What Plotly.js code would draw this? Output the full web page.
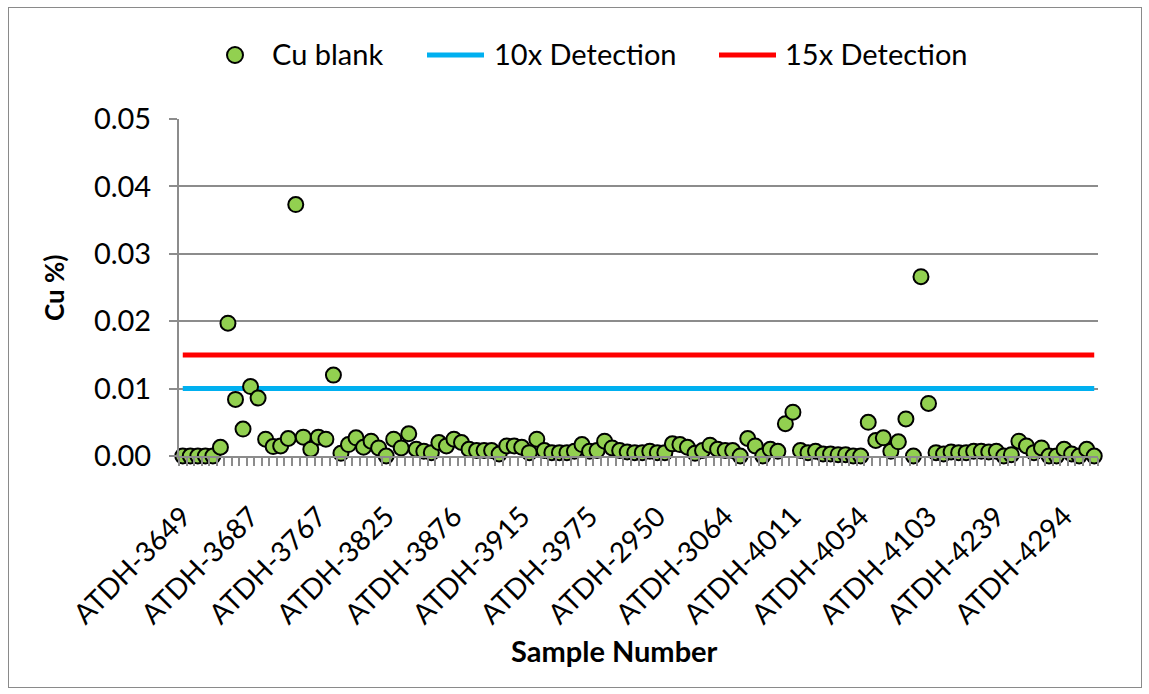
<!DOCTYPE html>
<html>
<head>
<meta charset="utf-8">
<script src="https://cdn.plot.ly/plotly-3.0.1.min.js"></script>
<style>
  html, body { margin: 0; padding: 0; background: #ffffff; }
  #chart { position: absolute; left: 8px; top: 7px; width: 1132px; height: 679px; border: 1px solid #8a8a8a; }
</style>
</head>
<body>
<div id="chart"></div>
<script>
// Sample index (category position) and Cu % values
const cuBlank = [
  0.0000, 0.0000, 0.0000, 0.0000, 0.0000, 0.0013, 0.0197, 0.0084, 0.0040, 0.0103,
  0.0086, 0.0025, 0.0014, 0.0015, 0.0026, 0.0373, 0.0028, 0.0010, 0.0028, 0.0025,
  0.0120, 0.0004, 0.0017, 0.0027, 0.0013, 0.0022, 0.0012, 0.0000, 0.0025, 0.0012,
  0.0033, 0.0010, 0.0007, 0.0005, 0.0020, 0.0015, 0.0025, 0.0020, 0.0010, 0.0008,
  0.0008, 0.0008, 0.0003, 0.0015, 0.0015, 0.0013, 0.0005, 0.0025, 0.0008, 0.0005,
  0.0005, 0.0005, 0.0007, 0.0017, 0.0007, 0.0008, 0.0022, 0.0012, 0.0008, 0.0006,
  0.0005, 0.0005, 0.0007, 0.0005, 0.0005, 0.0018, 0.0017, 0.0013, 0.0004, 0.0008,
  0.0016, 0.0010, 0.0008, 0.0008, 0.0000, 0.0026, 0.0015, 0.0000, 0.0010, 0.0007,
  0.0048, 0.0065, 0.0008, 0.0005, 0.0007, 0.0003, 0.0003, 0.0002, 0.0002, 0.0000,
  0.0000, 0.0050, 0.0023, 0.0027, 0.0007, 0.0021, 0.0055, 0.0000, 0.0266, 0.0078,
  0.0005, 0.0003, 0.0006, 0.0005, 0.0005, 0.0007, 0.0007, 0.0006, 0.0007, 0.0000,
  0.0002, 0.0022, 0.0015, 0.0005, 0.0012, 0.0000, 0.0000, 0.0010, 0.0003, 0.0000,
  0.0010, 0.0000
];
const sampleIndex = cuBlank.map((_, i) => i);

// Labelled categories on the x axis (every 9th sample)
const tickIndex = [0, 9, 18, 27, 36, 45, 54, 63, 72, 81, 90, 99, 108, 117];
const tickLabels = ["ATDH-3649", "ATDH-3687", "ATDH-3767", "ATDH-3825", "ATDH-3876",
  "ATDH-3915", "ATDH-3975", "ATDH-2950", "ATDH-3064", "ATDH-4011", "ATDH-4054",
  "ATDH-4103", "ATDH-4239", "ATDH-4294"];

// Detection limits
const detection10x = 0.01;
const detection15x = 0.015;
const seriesNames = ["Cu blank", "10x Detection", "15x Detection"];
const xTitle = "Sample Number";
const yTitle = "Cu %)";

const FONT = "Lato, 'Open Sans', sans-serif";
const GREEN = "#92D050", BLUE = "#00B0F0", RED = "#FF0000", GRID = "#8c8c8c";

const firstX = sampleIndex[0], lastX = sampleIndex[sampleIndex.length - 1];

const traces = [
  { x: [firstX, lastX], y: [detection10x, detection10x], type: "scatter", mode: "lines",
    name: seriesNames[1], line: { color: BLUE, width: 5 }, hoverinfo: "skip" },
  { x: [firstX, lastX], y: [detection15x, detection15x], type: "scatter", mode: "lines",
    name: seriesNames[2], line: { color: RED, width: 5 }, hoverinfo: "skip" },
  { x: sampleIndex, y: cuBlank, type: "scatter", mode: "markers", name: seriesNames[0],
    marker: { color: GREEN, size: 15, line: { color: "#000000", width: 2 } },
    cliponaxis: false }
];

// Plot area in page pixels: x 179..1098, y 119..455  (div origin 9,8)
const L = 170, R = 43, T = 111, B = 231;
const W = 1132, H = 679;
const pw = W - L - R, ph = H - T - B;
const px = v => (v - 179) / pw;      // page px -> paper x
const py = v => (455 - v) / ph;      // page px -> paper y

const legY = 54;
const shapes = [
  { type: "circle", xref: "paper", yref: "paper", x0: px(227), x1: px(243), y0: py(legY + 8), y1: py(legY - 8),
    fillcolor: GREEN, line: { color: "#000", width: 2 } },
  { type: "line", xref: "paper", yref: "paper", x0: px(427), x1: px(484), y0: py(legY), y1: py(legY),
    line: { color: BLUE, width: 5 } },
  { type: "line", xref: "paper", yref: "paper", x0: px(719), x1: px(776), y0: py(legY), y1: py(legY),
    line: { color: RED, width: 5 } }
];
const legFont = { family: FONT, size: 29, color: "#000" };
const annotations = [
  { text: seriesNames[0], xref: "paper", yref: "paper", x: px(270), y: py(legY - 1), xanchor: "left", yanchor: "middle", showarrow: false, font: legFont },
  { text: seriesNames[1], xref: "paper", yref: "paper", x: px(492), y: py(legY - 1), xanchor: "left", yanchor: "middle", showarrow: false, font: legFont },
  { text: seriesNames[2], xref: "paper", yref: "paper", x: px(783), y: py(legY - 1), xanchor: "left", yanchor: "middle", showarrow: false, font: legFont },
  { text: "<b>" + xTitle + "</b>", xref: "paper", yref: "paper", x: px(614), y: py(649), xanchor: "center", yanchor: "middle",
    showarrow: false, font: { family: FONT, size: 29, color: "#000" } },
  { text: "<b>" + yTitle + "</b>", xref: "paper", yref: "paper", x: px(54), y: py(287), xanchor: "center", yanchor: "middle",
    textangle: -90, showarrow: false, font: { family: FONT, size: 26, color: "#000" } }
];

const layout = {
  width: W, height: H,
  margin: { l: L, r: R, t: T, b: B, pad: 0 },
  paper_bgcolor: "#ffffff", plot_bgcolor: "#ffffff",
  showlegend: false,
  font: { family: FONT, color: "#000" },
  xaxis: {
    range: [-0.5, cuBlank.length - 0.5],
    tickmode: "array", tickvals: tickIndex, ticktext: tickLabels,
    tickangle: -45, ticks: "", ticklabelstandoff: 31,
    tickfont: { family: FONT, size: 28, color: "#000" },
    showgrid: false, zeroline: false,
    showline: true, linecolor: GRID, linewidth: 2,
    minor: { tickmode: "linear", tick0: 0.5, dtick: 1, ticks: "outside", ticklen: 8, tickcolor: GRID, tickwidth: 2, showgrid: false }
  },
  yaxis: {
    range: [0, 0.05], dtick: 0.01, tick0: 0, tickformat: ".2f",
    ticks: "outside", ticklen: 8, tickcolor: GRID, tickwidth: 2, ticklabelstandoff: 12,
    tickfont: { family: FONT, size: 29, color: "#000" },
    showgrid: true, gridcolor: GRID, gridwidth: 2,
    zeroline: false, showline: true, linecolor: GRID, linewidth: 2
  },
  shapes: shapes,
  annotations: annotations
};

Plotly.newPlot("chart", traces, layout, { displayModeBar: false, staticPlot: true });
</script>
</body>
</html>
